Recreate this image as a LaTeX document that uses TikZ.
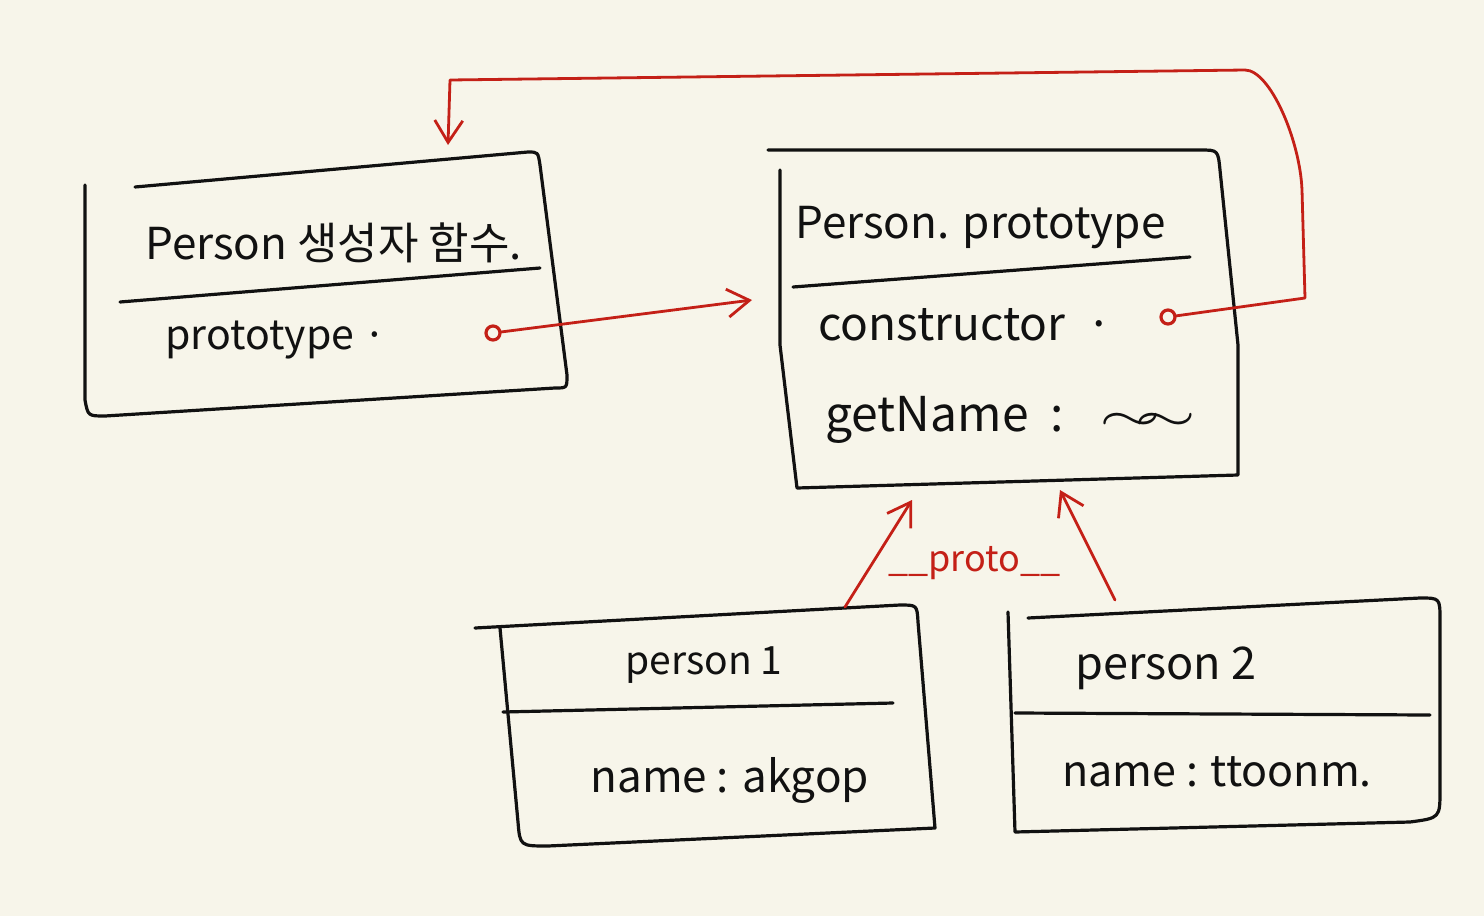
\documentclass[tikz,border=0pt]{standalone}
\usepackage{fontspec}
\setmainfont{Noto Sans CJK KR}
\usetikzlibrary{arrows.meta}
\definecolor{bg}{HTML}{F7F5EA}
\definecolor{ink}{HTML}{111111}
\definecolor{redink}{HTML}{C42017}
\tikzset{
  box/.style={draw=ink, line width=1.6pt, line join=round, line cap=round},
  sep/.style={draw=ink, line width=1.6pt, line cap=round},
  txt/.style={text=ink, anchor=west, inner sep=0pt},
  fs/.style={font=\fontsize{#1}{#1}\selectfont},
  rtxt/.style={text=redink, anchor=west, inner sep=0pt},
  rline/.style={draw=redink, line width=1.4pt, line cap=round, line join=round},
  rarrow/.style={rline, -{Straight Barb[length=11pt, width=14pt, line width=1.4pt]}},
  dot/.style={circle, draw=redink, line width=1.6pt, minimum size=7pt, inner sep=0pt},
}
\begin{document}
\begin{tikzpicture}[x=0.5pt,y=-0.5pt]
\fill[bg] (0,0) rectangle (1484,916);
\useasboundingbox (0,0) rectangle (1484,916);

% Box 1: Person constructor
\draw[box] (135,187) -- (528,152) .. controls (538,152) .. (540,165) -- (567,375) .. controls (567,388) .. (555,388) -- (105,416) .. controls (88,416) .. (85,400) -- (85,185);
\draw[sep] (120,302) -- (540,268);
\node[txt, fs=22] (p1title) at (145,243) {Person 생성자 함수.};
\node[txt, fs=20.5] (p1proto) at (165,340) {prototype ·};
\node[dot] (dot1) at (493,333) {};

% Box 2: Person.prototype
\draw[box] (768,150) -- (1200,150) .. controls (1218,150) .. (1220,170) -- (1238,345) -- (1238,475) -- (797,488) -- (780,345) -- (780,170);
\draw[sep] (793,287) -- (1190,257);
\node[txt, fs=22] (ptitle) at (795,228) {Person. prototype};
\node[txt, fs=23] (pcons) at (818,325) {constructor \ ·};
\node[txt, fs=24] (pget) at (825,420) {getName \ : \ \ \scalebox{1.6}[1]{$\sim\!\!\sim$}};
\node[dot] (dot2) at (1168,317) {};

% Box 3: person1
\draw[box] (475,628) -- (900,605) .. controls (917,605) .. (918,622) -- (935,828) -- (548,846) .. controls (520,846) .. (518,822) -- (500,628);
\draw[sep] (503,712) -- (893,703);
\node[txt, fs=19.5] (n1title) at (625,665) {person 1};
\node[txt, fs=22] (n1name) at (590,780) {name : akgop};

% Box 4: person2
\draw[box] (1028,618) -- (1420,598) .. controls (1440,598) .. (1440,620) -- (1440,790) .. controls (1440,818) .. (1410,822) -- (1015,832) -- (1008,612);
\draw[sep] (1015,713) -- (1430,715);
\node[txt, fs=22.5] (n2title) at (1075,668) {person 2};
\node[txt, fs=21.5] (n2name) at (1062,772) {name : ttoonm.};

% Arrow targets
\coordinate (protoIn) at (752,300);
\coordinate (ctorIn) at (448,145);
\coordinate (n1top) at (845,607);
\coordinate (n2top) at (1115,600);
\coordinate (pbotL) at (912,500);
\coordinate (pbotR) at (1060,490);

\draw[rarrow] (dot1) -- (protoIn);
\draw[rarrow] (dot2) -- (1305,298) -- (1302,190) .. controls (1300,140) and (1270,70) .. (1245,70) -- (450,80) -- (ctorIn);
\draw[rarrow] (n1top) -- (pbotL);
\draw[rarrow] (n2top) -- (pbotR);
\node[rtxt, fs=18] (protolbl) at (888,563) {\_\_proto\_\_};
\end{tikzpicture}
\end{document}
